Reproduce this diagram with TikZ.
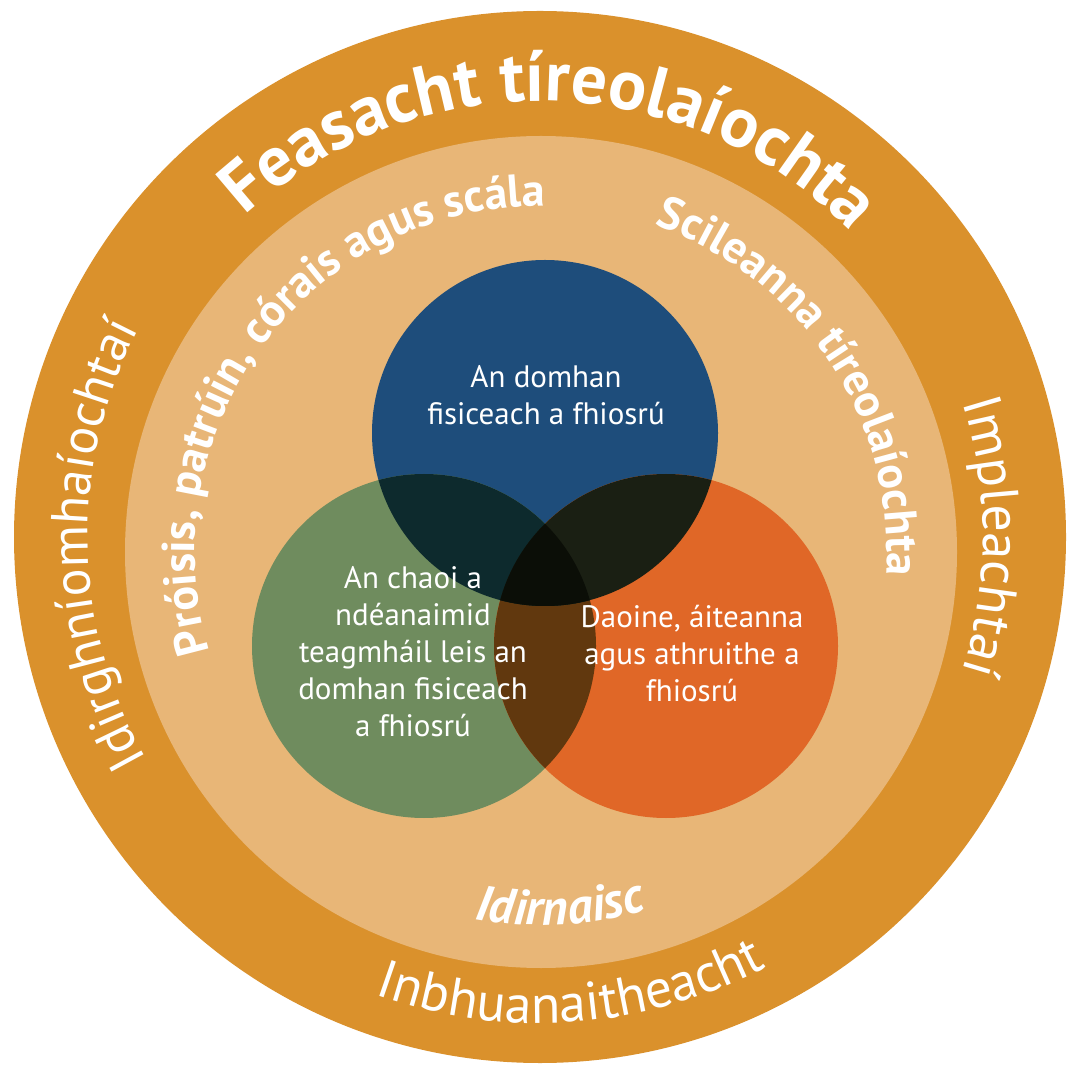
\documentclass[tikz,border=0pt]{standalone}
\usepackage{fontspec}
\setmainfont{PT Sans}
\usetikzlibrary{decorations.text,positioning}
\definecolor{ringorange}{RGB}{218,145,44}
\definecolor{ringlight}{RGB}{232,182,119}
\definecolor{vennblue}{RGB}{30,77,123}
\definecolor{venngreen}{RGB}{111,140,94}
\definecolor{vennorange}{RGB}{224,103,39}
\definecolor{bluegreen}{RGB}{13,42,45}
\definecolor{blueorange}{RGB}{26,31,19}
\definecolor{greenorange}{RGB}{97,56,14}
\definecolor{allthree}{RGB}{11,14,7}
\newcommand\ringbold{\color{white}\fontsize{71}{71}\selectfont\bfseries}
\newcommand\ringlight{\color{white}\fontsize{54}{54}\selectfont}
\newcommand\ringlightsmall{\color{white}\fontsize{52}{52}\selectfont}
\newcommand\bandbold{\color{white}\fontsize{46}{46}\selectfont\bfseries}
\newcommand\banditalic{\color{white}\fontsize{50}{50}\selectfont\bfseries\itshape}

\begin{document}
\begin{tikzpicture}[x=1pt,y=1pt,
    arc text/.style={decorate,decoration={text along path,text align=center,text={#1}}},
    venn text/.style={text=white,align=center,font=\fontsize{31}{37}\selectfont}]
    \useasboundingbox (0,0) rectangle (1075,1066);
    \coordinate (outer) at (540,529);
    \coordinate (inner) at (541,514);
    \coordinate (blue)   at (545,633);
    \coordinate (green)  at (424,420);
    \coordinate (orange) at (666,420);

    % rings
    \fill[ringorange] (outer) circle (526);
    \fill[ringlight]  (inner) circle (416);

    % venn circles
    \fill[vennblue]   (blue)   circle (173);
    \fill[venngreen]  (green)  circle (172);
    \fill[vennorange] (orange) circle (172);
    \begin{scope}
        \clip (green) circle (172);
        \fill[greenorange] (orange) circle (172);
    \end{scope}
    \begin{scope}
        \clip (blue) circle (173);
        \fill[bluegreen]  (green)  circle (172);
        \fill[blueorange] (orange) circle (172);
        \clip (green) circle (172);
        \fill[allthree]   (orange) circle (172);
    \end{scope}

    % outer ring labels
    \path[arc text={|\ringbold|Feasacht tíreolaíochta}]
        (outer) ++(178.5:436) arc[start angle=178.5,end angle=-1.5,radius=436];
    \path[arc text={|\ringlight|Impleachtaí}]
        (outer) ++(80:443) arc[start angle=80,end angle=-80,radius=443];
    \path[arc text={|\ringlightsmall|Idirghníomhaíochtaí}]
        (outer) ++(261:452) arc[start angle=261,end angle=101,radius=452];
    \path[arc text={|\ringlight|Inbhuanaitheacht}]
        (outer) ++(194:486) arc[start angle=194,end angle=354,radius=486];

    % inner ring labels
    \path[arc text={|\bandbold|Próisis, patrúin, córais agus scála}]
        (inner) ++(250:346) arc[start angle=250,end angle=36,radius=346];
    \path[arc text={|\bandbold|Scileanna tíreolaíochta}]
        (inner) ++(110:346) arc[start angle=110,end angle=-43,radius=346];
    \path[arc text={|\banditalic|Idirnaisc}]
        (inner) ++(230:373) arc[start angle=230,end angle=316,radius=373];

    % venn labels
    \node[venn text] (bluelabel)   at (546,671) {An domhan\\fisiceach a fhiosrú};
    \node[venn text] (greenlabel)  at (413,414) {An chaoi a\\ndéanaimid\\teagmháil leis an\\domhan fisiceach\\a fhiosrú};
    \node[venn text] (orangelabel) at (692,412) {Daoine, áiteanna\\agus athruithe a\\fhiosrú};
\end{tikzpicture}
\end{document}
